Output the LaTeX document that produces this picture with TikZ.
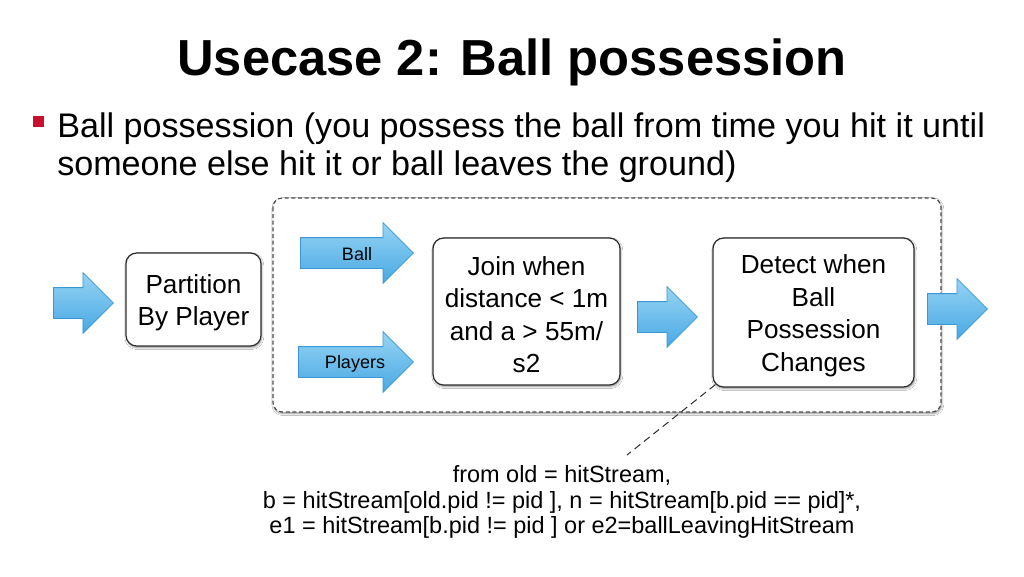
\documentclass[tikz,border=0pt]{standalone}
\usepackage{fontspec}
\setmainfont{Liberation Sans}
\usepackage{tikz}
\usetikzlibrary{calc,shapes.arrows,shadows.blur}
\definecolor{bulletred}{RGB}{200,16,46}
\definecolor{arrowtop}{RGB}{150,212,245}
\definecolor{arrowbot}{RGB}{72,168,226}
\definecolor{arrowline}{RGB}{58,150,212}
\definecolor{boxline}{RGB}{45,45,45}
\newcommand\stagestrut{\rule{0pt}{19pt}}
\tikzset{
  flowarrow/.style={single arrow, draw=arrowline, line width=0.6pt, top color=arrowtop, bottom color=arrowbot,
    inner xsep=0pt, inner ysep=11.25pt, single arrow head extend=11.25pt, single arrow tip angle=90, anchor=tail},
  stagebox/.style={draw=boxline, line width=0.9pt, fill=white, rounded corners=8pt, align=center,
    font=\fontsize{19.6}{24.4}\selectfont, inner sep=0pt,
    blur shadow={shadow xshift=0.6pt, shadow yshift=-1.2pt, shadow blur radius=1.5pt, shadow opacity=45}},
  arrowlabel/.style={font=\fontsize{13.5}{16}\selectfont, inner sep=0pt},
  groupframe/.style={draw=boxline!85, line width=0.9pt, dash pattern=on 3pt off 2pt, rounded corners=7pt, fill=white,
    blur shadow={shadow xshift=0.6pt, shadow yshift=-1.2pt, shadow blur radius=1.5pt, shadow opacity=45}},
  leader/.style={draw=boxline, line width=0.75pt, dash pattern=on 5.5pt off 3.5pt},
}
\begin{document}
\begin{tikzpicture}[x=0.75pt,y=-0.75pt]
\useasboundingbox[fill=white] (0,0) rectangle (1024,576);
% title and bullet text
\node[font=\fontsize{38}{46}\bfseries\selectfont, inner sep=0pt, anchor=base] (title) at (512,75) {Usecase 2: Ball possession};
\node[fill=bulletred, minimum size=8.25pt, inner sep=0pt] (bullet) at (38.5,121.5) {};
\node[font=\fontsize{25.6}{28.5}\selectfont, inner sep=0pt, anchor=base west, align=left] (intro) at (57,175)
  {Ball possession (you possess the ball from time you hit it until\\someone else hit it or ball leaves the ground)};
% dashed group
\draw[groupframe] (273,198) rectangle (941,412);
% stages
\node[stagebox, minimum width=101.25pt, minimum height=69.75pt] (partition) at (193.5,299.5)
  {\stagestrut Partition\\By Player};
\node[stagebox, minimum width=140.25pt, minimum height=110.25pt] (join) at (526.5,311.5)
  {\stagestrut Join when\\distance < 1m\\and a > 55m/\\s2};
\node[stagebox, minimum width=150.75pt, minimum height=111.75pt] (detect) at (813.5,312.5)
  {\stagestrut Detect when\\Ball\\Possession\\Changes};
% block arrows
\node[flowarrow, minimum height=45pt] (inarrow) at (53,303) {};
\node[flowarrow, minimum height=84.75pt] (ballarrow) at (300,253) {};
\node[flowarrow, minimum height=86.25pt] (playerarrow) at (298,362) {};
\node[flowarrow, minimum height=45pt] (midarrow) at (637,317) {};
\node[flowarrow, minimum height=45pt] (outarrow) at (927,309) {};
\node[arrowlabel] (balllabel) at (357,254) {Ball};
\node[arrowlabel] (playerlabel) at (355,364) {Players};
% note
\coordinate (noteend) at (627,455);
\draw[leader] ($(detect.south west)+(3,-3)$) -- (noteend);
\node[font=\fontsize{17.6}{19}\selectfont, inner sep=0pt, align=center] (note) at (562,502)
  {from old = hitStream,\\b = hitStream[old.pid != pid ], n = hitStream[b.pid == pid]*,\\e1 = hitStream[b.pid != pid ] or e2=ballLeavingHitStream};
\end{tikzpicture}
\end{document}
